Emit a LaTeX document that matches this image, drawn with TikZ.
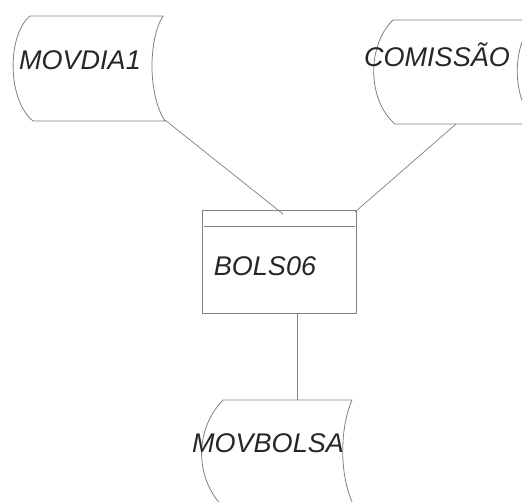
\documentclass[tikz,border=0pt]{standalone}
\usepackage{fontspec}
\setmainfont{Liberation Sans}
\begin{document}
\begin{tikzpicture}[x=1pt,y=-1pt,
  shapeline/.style={draw=black!50, line width=0.8pt, line join=round},
  conn/.style={draw=black!50, line width=0.7pt},
  lbl/.style={text=black!85, font=\fontsize{27}{30}\selectfont\itshape, inner sep=0pt, text height=19.5pt, text depth=0pt, anchor=center}]
\useasboundingbox (0,0) rectangle (522,501);
\clip (0,0) rectangle (522,501);
\fill[white] (0,0) rectangle (522,501);
% MOVDIA1
\draw[shapeline] (30,16) -- (163,16) .. controls (148,40) and (148,95) .. (165,121) -- (33,121) .. controls (7,100) and (7,35) .. (30,16) -- cycle;
\node[lbl] (movdia) at (80,60) {MOVDIA1};
\coordinate (movdiaout) at (165,120);
% COMISSAO
\draw[shapeline] (393,20) -- (535,20) .. controls (511,45) and (511,100) .. (537,124) -- (395,124) .. controls (367,100) and (367,45) .. (393,20) -- cycle;
\node[lbl] (comissao) at (437,57) {COMISSÃO};
\coordinate (comissaoout) at (456,124);
% BOLS06
\draw[shapeline] (202,210) rectangle (356,313);
\draw[shapeline] (204,226) -- (355,226);
\node[lbl] (bols) at (265,266) {BOLS06};
\coordinate (bolsinl) at (283,214);
\coordinate (bolsinr) at (355,212);
\coordinate (bolsout) at (297,313);
% MOVBOLSA
\draw[shapeline] (223,400) -- (352,400) .. controls (339,430) and (339,480) .. (356,510) -- (226,510) .. controls (194,480) and (194,430) .. (223,400) -- cycle;
\node[lbl] (movbolsa) at (268,443) {MOVBOLSA};
\coordinate (movbolsain) at (297,400);
% connectors
\draw[conn] (movdiaout) -- (bolsinl);
\draw[conn] (comissaoout) -- (bolsinr);
\draw[conn] (bolsout) -- (movbolsain);
\end{tikzpicture}
\end{document}
